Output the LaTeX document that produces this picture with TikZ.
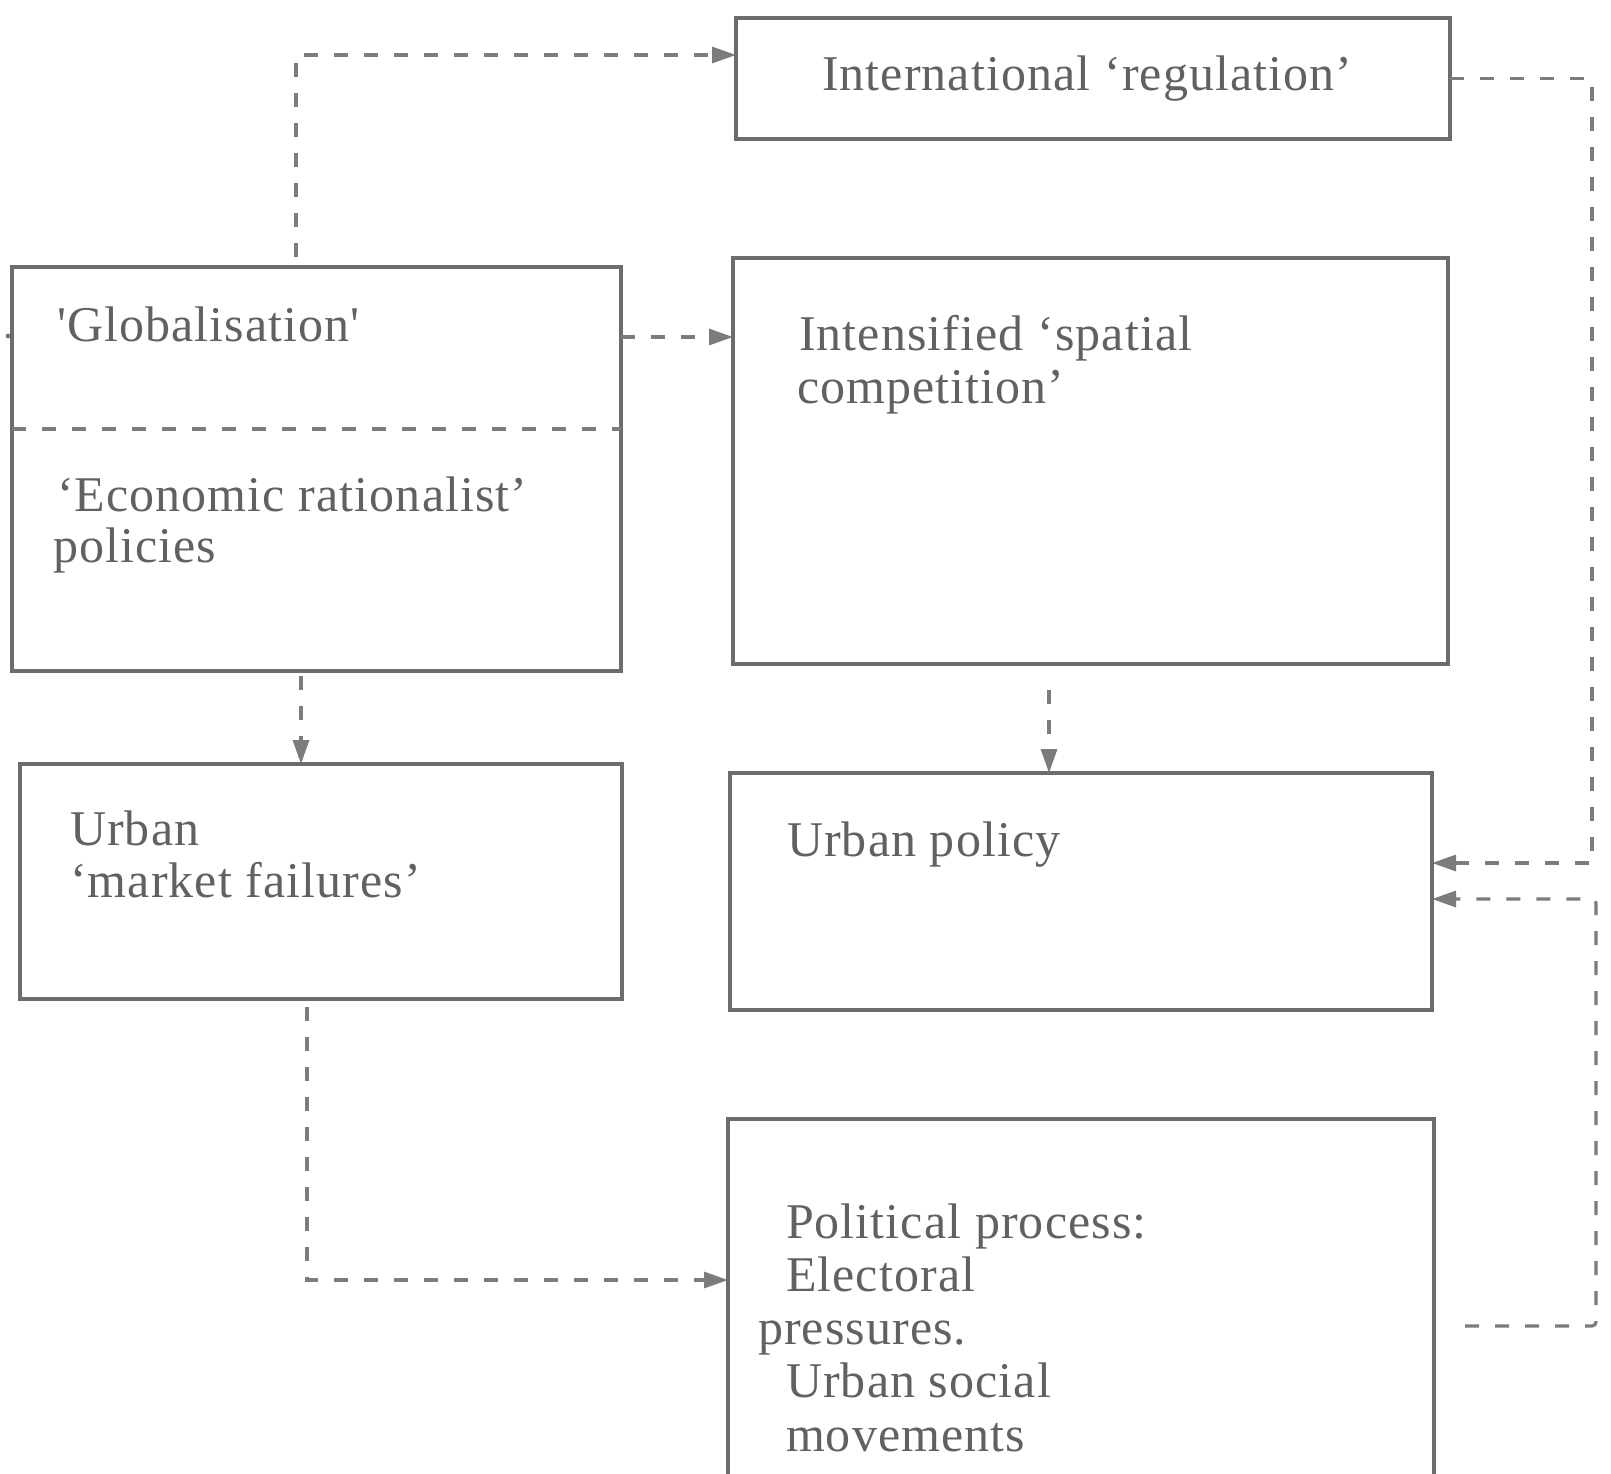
\documentclass[tikz,border=0pt]{standalone}
\usepackage{fontspec}
\setmainfont{Liberation Serif}[Ligatures=TeXOff, LetterSpace=2.2]
\usetikzlibrary{arrows.meta}
\definecolor{boxline}{HTML}{6C6C6C}
\definecolor{dashline}{HTML}{7C7C7C}
\definecolor{ink}{HTML}{616161}
\tikzset{
  box/.style={draw=boxline, line width=3.1pt, rectangle, inner sep=0pt, outer sep=0pt},
  label/.style={anchor=base west, inner sep=0pt, outer sep=0pt, text=ink,
    font=\fontsize{50}{53}\selectfont},
  conn/.style={draw=dashline, line width=3.2pt, dash pattern=on 14pt off 16pt,
    -{Triangle[length=24pt,width=16pt]}},
  link/.style={draw=dashline, line width=3.2pt, dash pattern=on 14pt off 16pt}
}
\begin{document}
\begin{tikzpicture}[x=1pt,y=-1pt]
\useasboundingbox[fill=white] (0,0) rectangle (1611,1473);
\clip (0,0) rectangle (1611,1473);

% boxes
\node[box, minimum width=714pt, minimum height=121pt] (intl)  at (1093,78.5) {};
\node[box, minimum width=609pt, minimum height=404pt] (glob)  at (316.5,469) {};
\node[box, minimum width=715pt, minimum height=406pt] (inten) at (1090.5,461) {};
\node[box, minimum width=602pt, minimum height=235pt] (umf)   at (321,881.5) {};
\node[box, minimum width=702pt, minimum height=237pt] (upol)  at (1081,891.5) {};
\node[box, minimum width=706pt, minimum height=401pt] (pol)   at (1081,1319.5) {};

% divider inside the globalisation box
\draw[link] ([yshift=40pt]glob.west) -- ([yshift=40pt]glob.east);

% texts
\node[label] (tintl) at (822,90)  {International ‘regulation’};
\node[label] (tglob) at (57,341)  {'Globalisation'};
\node[label] (tecon) at (57,511)  {‘Economic rationalist’};
\node[label] (tpolc) at (53,562)  {policies};
\node[label] (tint1) at (799,350) {Intensified ‘spatial};
\node[label] (tint2) at (797,403) {competition’};
\node[label] (turb1) at (70,845)  {Urban};
\node[label] (turb2) at (70,897)  {‘market failures’};
\node[label] (tupol) at (787,856) {Urban policy};
\node[label] (tpp1)  at (786,1238) {Political process:};
\node[label] (tpp2)  at (786,1291) {Electoral};
\node[label] (tpp3)  at (758,1344) {pressures.};
\node[label] (tpp4)  at (786,1397) {Urban social};
\node[label] (tpp5)  at (786,1451) {movements};

% small mark at the left edge
\node[circle, fill=dashline, inner sep=0pt, minimum size=5pt] (dot) at (8,336) {};

% connectors
\coordinate (g1) at ([xshift=-20.5pt,yshift=10pt]glob.north);
\draw[conn] (g1) |- ([yshift=23.5pt]intl.west);

\draw[conn] ([yshift=132pt]glob.east) -- ([yshift=132pt]glob.east -| inten.west);

\coordinate (g3) at ([xshift=-15.5pt,yshift=-5pt]glob.south);
\draw[conn] (g3) -- (g3 |- umf.north);

\coordinate (g4) at ([xshift=-41.5pt,yshift=-26pt]inten.south);
\draw[conn] (g4) -- (g4 |- upol.north);

\coordinate (g5) at ([xshift=-14pt,yshift=-8pt]umf.south);
\draw[conn] (g5) |- ([yshift=39.5pt]pol.west);

\draw[conn] (intl.east) -- ++(142,0) |- ([yshift=28.5pt]upol.east);

\coordinate (p1) at ([xshift=31pt,yshift=-6.5pt]pol.east);
\draw[conn, rounded corners=4pt] (p1) -- ++(131,0) |- ([yshift=-7.5pt]upol.east);
\end{tikzpicture}
\end{document}
